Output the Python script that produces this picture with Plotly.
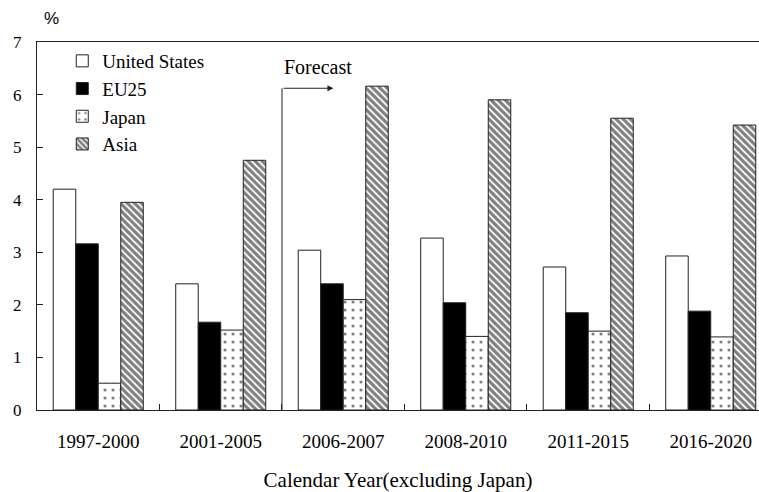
import plotly.graph_objects as go

categories = ["1997-2000", "2001-2005", "2006-2007", "2008-2010", "2011-2015", "2016-2020"]
us = [4.20, 2.40, 3.04, 3.27, 2.72, 2.93]
eu25 = [3.16, 1.67, 2.40, 2.04, 1.85, 1.88]
japan = [0.51, 1.52, 2.10, 1.40, 1.50, 1.39]
asia = [3.95, 4.75, 6.16, 5.90, 5.55, 5.42]
y_ticks = [0, 1, 2, 3, 4, 5, 6, 7]

serif = "Liberation Serif"
line_col = "#222222"

fig = go.Figure()
fig.add_trace(go.Bar(name="United States", x=categories, y=us,
                     marker=dict(color="white", line=dict(color=line_col, width=1))))
fig.add_trace(go.Bar(name="EU25", x=categories, y=eu25,
                     marker=dict(color="black", line=dict(color=line_col, width=1))))
fig.add_trace(go.Bar(name="Japan", x=categories, y=japan,
                     marker=dict(color="white", line=dict(color=line_col, width=1),
                                 pattern=dict(shape=".", fgcolor="black", bgcolor="white",
                                              size=8, solidity=0.12))))
fig.add_trace(go.Bar(name="Asia", x=categories, y=asia,
                     marker=dict(color="white", line=dict(color=line_col, width=1),
                                 pattern=dict(shape="\\", fgcolor="black", bgcolor="white",
                                              size=5, solidity=0.65))))

# Forecast marker: vertical line at boundary between 2001-2005 and 2006-2007
fig.add_shape(type="line", xref="x", yref="y", x0=1.5, x1=1.5, y0=0, y1=6.12,
              line=dict(color=line_col, width=1))
fig.add_annotation(x=1.92, y=6.12, ax=1.5, ay=6.12, xref="x", yref="y",
                   axref="x", ayref="y", showarrow=True, arrowhead=2, arrowsize=1.2,
                   arrowwidth=1, arrowcolor=line_col, text="")
fig.add_annotation(x=1.5, y=6.52, xref="x", yref="y", text="Forecast", showarrow=False,
                   xanchor="left", yanchor="middle", font=dict(family=serif, size=20, color="black"))
fig.add_annotation(x=0.007, y=1.0, xref="paper", yref="paper", text="%", showarrow=False,
                   xanchor="left", yanchor="bottom", yshift=12,
                   font=dict(family="Liberation Sans", size=17, color="black"))

fig.update_layout(
    width=759, height=492,
    margin=dict(l=37, r=0, t=42, b=82),
    paper_bgcolor="white", plot_bgcolor="white",
    barmode="group", bargap=0.265, bargroupgap=0,
    font=dict(family=serif, color="black", size=18),
    legend=dict(x=0.035, y=1.0, xanchor="left", yanchor="top", bgcolor="rgba(0,0,0,0)",
                font=dict(family=serif, size=19, color="black"), tracegroupgap=0,
                itemwidth=30),
    xaxis=dict(type="category", range=[-0.5, 5.394], showline=True, linecolor=line_col,
               linewidth=1, mirror=True, ticks="inside", tickson="boundaries", ticklen=6,
               tickcolor=line_col, showgrid=False, tickfont=dict(family=serif, size=19),
               ticklabelstandoff=14,
               title=dict(text="Calendar Year(excluding Japan)", font=dict(family=serif, size=21),
                          standoff=23)),
    yaxis=dict(range=[0, 7], tickvals=y_ticks, showline=True, linecolor=line_col, linewidth=1,
               ticks="inside", ticklen=6, tickcolor=line_col, showgrid=False, zeroline=False,
               tickfont=dict(family=serif, size=17), ticklabelstandoff=11),
)

fig.write_html("out.html", config={"displayModeBar": False},
               post_script="document.body.style.margin='0';")
